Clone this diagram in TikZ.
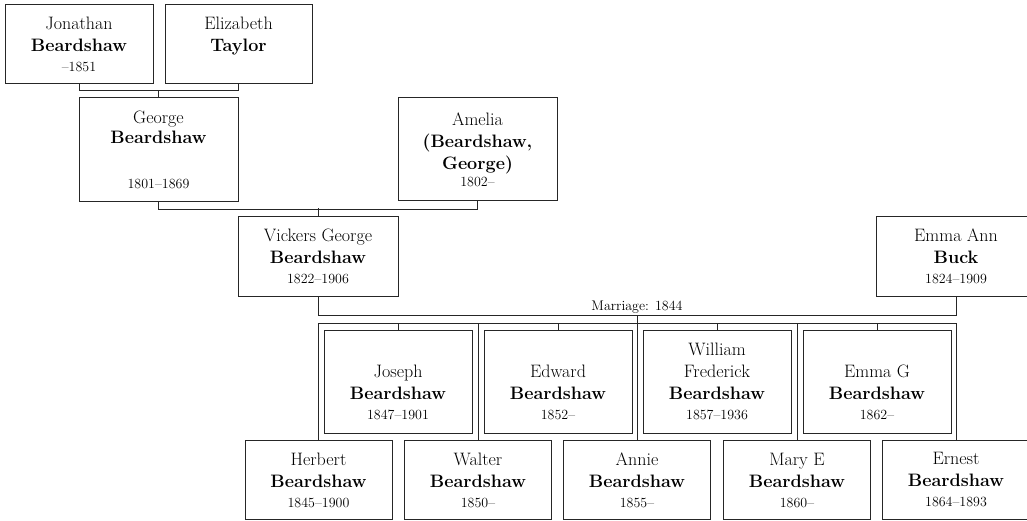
\documentclass[tikz,border=0pt]{standalone}
\usetikzlibrary{calc}

\begin{document}
\begin{tikzpicture}[x=1pt,y=-1pt,
    person/.style={draw=black!85,line width=1pt,fill=white,inner sep=0pt,
      minimum width=148pt,minimum height=79pt,align=center,
      font=\fontsize{18}{22}\selectfont},
    tallperson/.style={person,minimum height=103pt},
    link/.style={draw=black!85,line width=1pt}]
  % Constants
  \pgfmathsetmacro\top{381.5}
  \pgfmathsetmacro\low{480}
  \newcommand\yrs[1]{{\fontsize{14}{17}\selectfont #1}}
  % Boundary
  \path[use as bounding box] (0,0) rectangle (1027,521);
  \clip (0,0) rectangle (1027,521);
  % Grandparents
  \node[person] (jonathan) at (79,44.5) {Jonathan\\\textbf{Beardshaw}\\[-2pt]\yrs{--1851}};
  \node[person,minimum width=147pt] (elizabeth) at (238.5,44.5) {Elizabeth\\\textbf{Taylor}\\[-2pt]\yrs{\vphantom{1}}};
  % Parents
  \node[person,minimum width=159pt,minimum height=104pt] (george) at (158.5,150) {George\\[-2pt]\textbf{Beardshaw}\\[23pt]\yrs{1801--1869}};
  \node[person,minimum width=159pt,minimum height=103pt] (amelia) at (477.5,149.5) {Amelia\\\textbf{(Beardshaw,}\\\textbf{George)}\\[-5pt]\yrs{1802--}};
  % Couple
  \node[person,minimum width=160pt] (vickers) at (318,256.5) {Vickers George\\\textbf{Beardshaw}\\[-2pt]\yrs{1822--1906}};
  \node[person,minimum width=160pt] (emmaann) at (956,256.5) {Emma Ann\\\textbf{Buck}\\[-2pt]\yrs{1824--1909}};
  % Children, upper row
  \node[tallperson] (joseph) at (398,\top) {\vphantom{W}\\Joseph\\\textbf{Beardshaw}\\[-2pt]\yrs{1847--1901}};
  \node[tallperson] (edward) at (558,\top) {\vphantom{W}\\Edward\\\textbf{Beardshaw}\\[-2pt]\yrs{1852--}};
  \node[tallperson] (william) at (717,\top) {William\\Frederick\\\textbf{Beardshaw}\\[-2pt]\yrs{1857--1936}};
  \node[tallperson] (emmag) at (877,\top) {\vphantom{W}\\Emma G\\\textbf{Beardshaw}\\[-2pt]\yrs{1862--}};
  % Children, lower row
  \node[person,minimum width=147pt] (herbert) at (318.5,\low) {Herbert\\\textbf{Beardshaw}\\[-2pt]\yrs{1845--1900}};
  \node[person,minimum width=147pt] (walter) at (478,\low) {Walter\\\textbf{Beardshaw}\\[-2pt]\yrs{1850--}};
  \node[person,minimum width=147pt] (annie) at (637,\low) {Annie\\\textbf{Beardshaw}\\[-2pt]\yrs{1855--}};
  \node[person,minimum width=147pt] (marye) at (797,\low) {Mary E\\\textbf{Beardshaw}\\[-2pt]\yrs{1860--}};
  \node[person,minimum width=147pt] (ernest) at (956,\low) {Ernest\\\textbf{Beardshaw}\\[-2pt]\yrs{1864--1893}};
  % Parent links
  \draw[link] (jonathan.south) -- ++(0,6) -| (elizabeth.south);
  \draw[link] (george.north) -- ++(0,-7);
  \draw[link] (george.south) -- ++(0,7) -| (amelia.south);
  \draw[link] (vickers.north) -- ++(0,-8);
  % Marriage
  \draw[link] (vickers.south) -- ++(0,19) -| (emmaann.south);
  \node[font=\fontsize{14}{16}\selectfont,anchor=base,inner sep=0pt] (marriage) at (637,310.5) {Marriage: 1844};
  \coordinate (wed) at (637,315);
  \coordinate (bus) at (637,323);
  \draw[link] (wed) -- (annie.north);
  % Children links
  \draw[link] (herbert.north) -- (herbert.north |- bus) -- (ernest.north |- bus) -- (ernest.north);
  \foreach \kid in {walter,marye,joseph,edward,william,emmag}
    \draw[link] (\kid.north) -- (\kid.north |- bus);
\end{tikzpicture}
\end{document}
